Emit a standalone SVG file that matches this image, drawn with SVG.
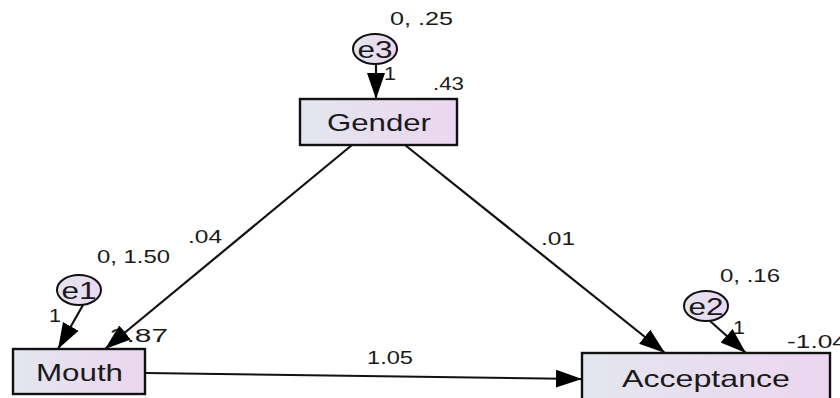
<svg xmlns="http://www.w3.org/2000/svg" width="840" height="398" viewBox="0 0 840 398">
<defs>
<linearGradient id="g" x1="0" y1="0" x2="1" y2="0">
<stop offset="0" stop-color="#e3e6ee"/>
<stop offset="1" stop-color="#ecd6f0"/>
</linearGradient>
<marker id="ah" markerUnits="userSpaceOnUse" markerWidth="28" markerHeight="22" refX="26" refY="11" orient="auto">
<path d="M0,2 L26,11 L0,20 Z" fill="#000"/>
</marker>
<style>
.box{fill:url(#g);stroke:#111;stroke-width:2.4}
.err{fill:url(#g);stroke:#111;stroke-width:2}
.lbl{font-family:"Liberation Sans",Arial,sans-serif;font-size:24px;fill:#1a1a1a}
.num{font-family:"Liberation Sans",Arial,sans-serif;font-size:18px;fill:#1a1a1a}
.edge{stroke:#111;stroke-width:2.2;fill:none;marker-end:url(#ah)}
</style>
</defs>
<rect width="840" height="398" fill="#fff"/>
<g id="labels">
<text class="num" x="390" y="25" textLength="63" lengthAdjust="spacingAndGlyphs">0, .25</text>
<text class="num" x="433" y="90" textLength="31" lengthAdjust="spacingAndGlyphs">.43</text>
<text class="num" x="384" y="80" font-size="20" textLength="12" lengthAdjust="spacingAndGlyphs">1</text>
<text class="num" x="97" y="263" textLength="73" lengthAdjust="spacingAndGlyphs">0, 1.50</text>
<text class="num" x="49" y="322" font-size="20" textLength="12" lengthAdjust="spacingAndGlyphs">1</text>
<text class="num" x="110" y="342" textLength="58" lengthAdjust="spacingAndGlyphs">3.87</text>
<text class="num" x="188" y="243" textLength="34" lengthAdjust="spacingAndGlyphs">.04</text>
<text class="num" x="541" y="245" textLength="34" lengthAdjust="spacingAndGlyphs">.01</text>
<text class="num" x="720" y="282" textLength="60" lengthAdjust="spacingAndGlyphs">0, .16</text>
<text class="num" x="733" y="334" font-size="20" textLength="12" lengthAdjust="spacingAndGlyphs">1</text>
<text class="num" x="787" y="348" textLength="60" lengthAdjust="spacingAndGlyphs">-1.04</text>
<text class="num" x="367" y="364" textLength="46" lengthAdjust="spacingAndGlyphs">1.05</text>
</g>
<g id="connectors">
<line class="edge" x1="376" y1="64" x2="376" y2="99"/>
<line class="edge" x1="83" y1="305" x2="58" y2="349"/>
<line class="edge" x1="352" y1="145" x2="105" y2="349"/>
<line class="edge" x1="405" y1="145" x2="665" y2="353"/>
<line class="edge" x1="710" y1="321" x2="746" y2="353"/>
<line class="edge" x1="145" y1="373" x2="582" y2="379"/>
</g>
<g id="e3">
<ellipse class="err" cx="375" cy="49" rx="22" ry="15"/>
<text class="lbl" x="375" y="58" text-anchor="middle" font-size="25" textLength="35" lengthAdjust="spacingAndGlyphs">e3</text>
</g>
<g id="gender">
<rect class="box" x="300" y="99" width="157" height="46"/>
<text class="lbl" x="327" y="131" textLength="104" lengthAdjust="spacingAndGlyphs">Gender</text>
</g>
<g id="e1">
<ellipse class="err" cx="79" cy="290" rx="22" ry="15"/>
<text class="lbl" x="79" y="299" text-anchor="middle" font-size="25" textLength="35" lengthAdjust="spacingAndGlyphs">e1</text>
</g>
<g id="mouth">
<rect class="box" x="13" y="349" width="132" height="45"/>
<text class="lbl" x="36" y="381" textLength="87" lengthAdjust="spacingAndGlyphs">Mouth</text>
</g>
<g id="e2">
<ellipse class="err" cx="706" cy="306" rx="22" ry="15"/>
<text class="lbl" x="706" y="315" text-anchor="middle" font-size="25" textLength="35" lengthAdjust="spacingAndGlyphs">e2</text>
</g>
<g id="acceptance">
<rect class="box" x="582" y="353" width="248" height="52"/>
<text class="lbl" x="622" y="387" textLength="168" lengthAdjust="spacingAndGlyphs">Acceptance</text>
</g>
</svg>
